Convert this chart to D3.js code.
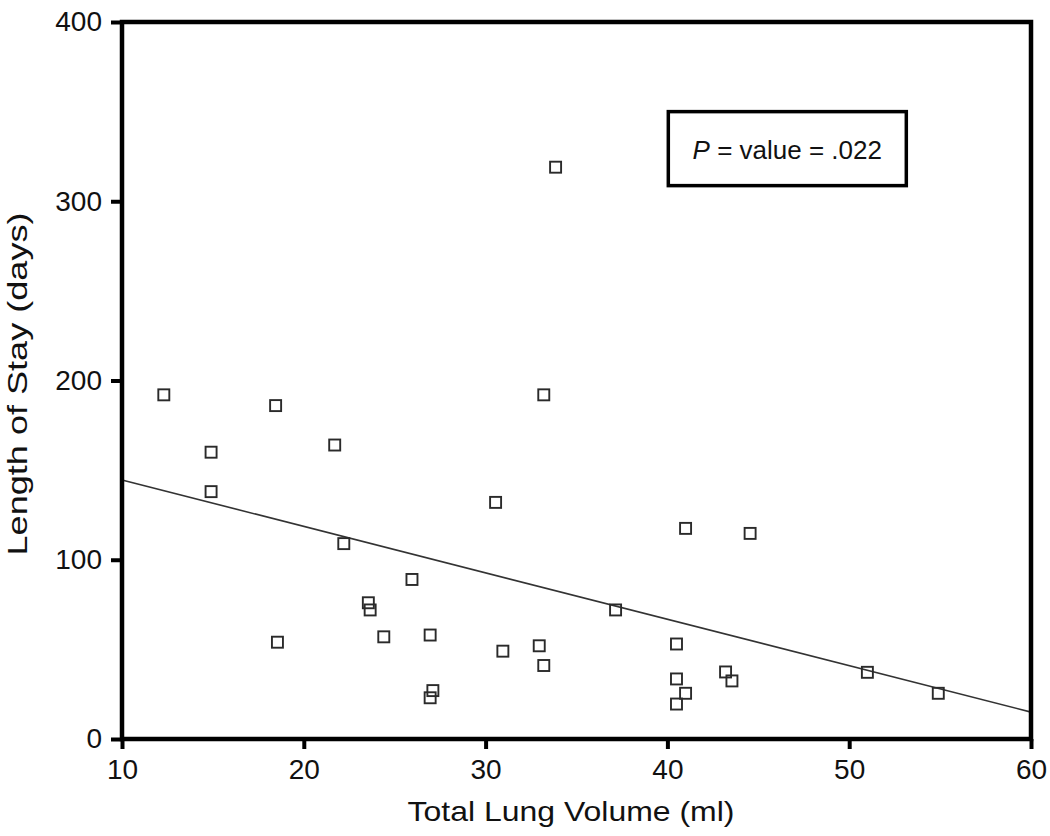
<!DOCTYPE html>
<html>
<head>
<meta charset="utf-8">
<script src="https://cdn.jsdelivr.net/npm/d3@7"></script>
<style>
  body { margin: 0; background: #fff; }
  svg { display: block; }
  text { font-family: "Liberation Sans", Arial, Helvetica, sans-serif; fill: #111; }
</style>
</head>
<body>
<svg id="chart" width="1050" height="836"></svg>
<script>
// scatter values
const lungVolume = [12.3, 14.9, 14.9, 18.45, 18.55, 21.7, 22.2, 23.55, 23.65, 24.4,
    25.95, 26.95, 27.1, 26.95, 30.55, 30.95, 32.95, 33.2, 33.2, 33.85,
    37.15, 40.5, 40.5, 41.0, 40.5, 41.0, 43.2, 43.55, 44.55, 51.0, 54.9];
const stayDays = [192, 160, 138, 186, 54, 164, 109, 76, 72, 57,
    89, 58, 27, 23, 132, 49, 52, 41, 192, 319,
    72, 53, 33.5, 25.5, 19.5, 117.5, 37.4, 32.4, 114.7, 37.2, 25.5];

// fitted regression line (ends at x = 10 and x = 60)
const fitX = [10, 60];
const fitY = [144.5, 15];

const xTicks = [10, 20, 30, 40, 50, 60];
const yTicks = [0, 100, 200, 300, 400];
const xTitle = 'Total Lung Volume (ml)';
const yTitle = 'Length of Stay (days)';
const pLabel = ['P', ' = value = .022'];

const svg = d3.select('#chart');
const margin = {left: 122, right: 19, top: 22, bottom: 97};
const width = +svg.attr('width') - margin.left - margin.right,
      height = +svg.attr('height') - margin.top - margin.bottom;

const x = d3.scaleLinear().domain([10, 60]).range([0, width]);
const y = d3.scaleLinear().domain([0, 400]).range([height, 0]);

const g = svg.append('g')
    .attr('transform', 'translate(' + margin.left + ',' + margin.top + ')');

// regression line
g.append('path')
    .datum(d3.zip(fitX, fitY))
    .attr('fill', 'none')
    .attr('stroke', '#333')
    .attr('stroke-width', 1.6)
    .attr('d', d3.line().x(d => x(d[0])).y(d => y(d[1])));

// open squares
const sq = 11;
g.selectAll('rect.pt')
    .data(d3.zip(lungVolume, stayDays))
    .enter()
    .append('rect')
    .attr('class', 'pt')
    .attr('x', d => x(d[0]) - sq / 2)
    .attr('y', d => y(d[1]) - sq / 2)
    .attr('width', sq)
    .attr('height', sq)
    .attr('fill', 'none')
    .attr('stroke', '#2a2a2a')
    .attr('stroke-width', 1.9);

// axes
const xAxis = g.append('g')
    .attr('transform', 'translate(0,' + height + ')')
    .call(d3.axisBottom(x).tickValues(xTicks).tickSize(10).tickPadding(10).tickFormat(d3.format('d')));
const yAxis = g.append('g')
    .call(d3.axisLeft(y).tickValues(yTicks).tickSize(11).tickPadding(9).tickFormat(d3.format('d')));

[xAxis, yAxis].forEach(a => {
    a.select('.domain').remove();
    a.selectAll('.tick line').attr('stroke', '#000').attr('stroke-width', 4);
    a.selectAll('.tick text')
        .attr('fill', '#111')
        .style('font-family', '"Liberation Sans", Arial, sans-serif')
        .style('font-size', '28px');
});
xAxis.selectAll('.tick text').attr('dy', '0.71em');

// heavy frame
g.append('rect')
    .attr('x', 0)
    .attr('y', 0)
    .attr('width', width)
    .attr('height', height)
    .attr('fill', 'none')
    .attr('stroke', '#000')
    .attr('stroke-width', 4.5);

// axis titles
svg.append('text')
    .attr('x', 571)
    .attr('y', 821)
    .attr('text-anchor', 'middle')
    .attr('textLength', 327)
    .attr('lengthAdjust', 'spacingAndGlyphs')
    .style('font-size', '28px')
    .text(xTitle);

svg.append('text')
    .attr('transform', 'translate(27,384)rotate(-90)')
    .attr('text-anchor', 'middle')
    .attr('textLength', 343)
    .attr('lengthAdjust', 'spacingAndGlyphs')
    .style('font-size', '28px')
    .text(yTitle);

// p-value box
const bx = x(40.05), by = y(350);
g.append('rect')
    .attr('x', bx)
    .attr('y', by)
    .attr('width', 238)
    .attr('height', 74)
    .attr('fill', '#fff')
    .attr('stroke', '#000')
    .attr('stroke-width', 3.5);

const pt = g.append('text')
    .attr('x', bx + 119)
    .attr('y', by + 47)
    .attr('text-anchor', 'middle')
    .style('font-size', '26px');
pt.append('tspan').style('font-style', 'italic').text(pLabel[0]);
pt.append('tspan').text(pLabel[1]);
</script>
</body>
</html>
